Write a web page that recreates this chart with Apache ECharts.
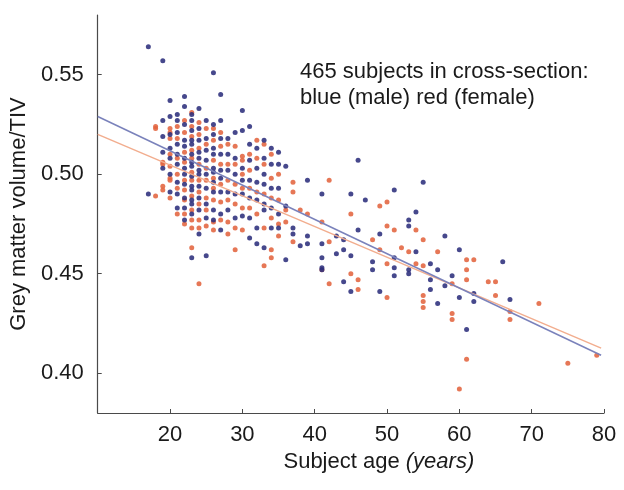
<!DOCTYPE html>
<html>
<head>
<meta charset="utf-8">
<script src="https://cdn.jsdelivr.net/npm/echarts@6/dist/echarts.min.js"></script>
<style>html,body{margin:0;padding:0;background:#fff}#c{width:624px;height:490px}</style>
</head>
<body>
<div id="c"></div>
<script>
// ---- data ----
const xTicks = [20, 30, 40, 50, 60, 70, 80];
const yTicks = [0.40, 0.45, 0.50, 0.55];

const maleData = [
  [17,0.564],[17,0.490],
  [19,0.557],[19,0.527],[19,0.519],[19,0.511],[19,0.503],
  [20,0.537],[20,0.529],[20,0.520],[20,0.513],[20,0.508],[20,0.500],[20,0.491],
  [21,0.530],[21,0.527],[21,0.521],[21,0.515],[21,0.510],[21,0.505],[21,0.496],[21,0.490],[21,0.483],
  [22,0.539],[22,0.534],[22,0.525],[22,0.517],[22,0.514],[22,0.508],[22,0.503],[22,0.500],[22,0.495],[22,0.488],[22,0.483],[22,0.477],
  [23,0.530],[23,0.527],[23,0.522],[23,0.517],[23,0.515],[23,0.510],[23,0.506],[23,0.504],[23,0.499],[23,0.494],[23,0.492],[23,0.487],[23,0.485],[23,0.480],[23,0.458],
  [24,0.533],[24,0.523],[24,0.517],[24,0.511],[24,0.508],[24,0.502],[24,0.500],[24,0.494],[24,0.488],[24,0.482],[24,0.470],
  [25,0.527],[25,0.518],[25,0.512],[25,0.507],[25,0.500],[25,0.493],[25,0.485],[25,0.478],[25,0.459],
  [26,0.551],[26,0.525],[26,0.520],[26,0.513],[26,0.510],[26,0.503],[26,0.501],[26,0.496],[26,0.491],[26,0.482],[26,0.477],
  [27,0.540],[27,0.527],[27,0.518],[27,0.510],[27,0.502],[27,0.498],[27,0.491],[27,0.480],[27,0.472],
  [28,0.518],[28,0.510],[28,0.502],[28,0.491],[28,0.482],
  [29,0.521],[29,0.508],[29,0.500],[29,0.490],[29,0.478],
  [30,0.532],[30,0.522],[30,0.503],[30,0.497],[30,0.490],[30,0.479],
  [31,0.524],[31,0.515],[31,0.507],[31,0.497],[31,0.488],[31,0.478],[31,0.468],
  [32,0.513],[32,0.503],[32,0.496],[32,0.487],[32,0.473],[32,0.465],
  [33,0.517],[33,0.508],[33,0.500],[33,0.495],[33,0.485],[33,0.482],[33,0.463],
  [34,0.513],[34,0.505],[34,0.493],[34,0.483],[34,0.473],
  [35,0.511],[35,0.505],[35,0.493],[35,0.480],[35,0.473],
  [36,0.504],[36,0.484],[36,0.457],
  [37,0.473],[37,0.470],
  [38,0.464],
  [39,0.497],[39,0.469],[39,0.465],
  [41,0.490],[41,0.465],[41,0.458],[41,0.453],[41,0.452],
  [43,0.469],[43,0.460],
  [44,0.467],[44,0.462],[44,0.446],
  [45,0.490],[45,0.459],[45,0.441],
  [46,0.507],[46,0.472],
  [47,0.487],
  [48,0.456],[48,0.452],
  [49,0.470],[49,0.441],
  [51,0.492],[51,0.458],[51,0.453],[51,0.449],
  [53,0.477],[53,0.474],[53,0.452],[53,0.450],
  [54,0.481],[54,0.461],
  [55,0.496],
  [56,0.455],[56,0.447],[56,0.442],
  [57,0.452],[57,0.435],
  [58,0.469],[58,0.444],
  [59,0.449],
  [60,0.462],[60,0.438],
  [61,0.422],
  [62,0.440],[62,0.436],
  [66,0.456],
  [67,0.437]
];

const femaleData = [
  [18,0.524],[18,0.523],[18,0.489],
  [19,0.506],[19,0.505],[19,0.494],[19,0.492],
  [20,0.523],[20,0.521],[20,0.518],[20,0.510],[20,0.504],[20,0.498],[20,0.497],[20,0.488],
  [21,0.524],[21,0.518],[21,0.508],[21,0.500],[21,0.493],[21,0.480],
  [22,0.527],[22,0.521],[22,0.511],[22,0.506],[22,0.497],[22,0.492],[22,0.487],[22,0.480],[22,0.475],
  [23,0.531],[23,0.524],[23,0.519],[23,0.512],[23,0.508],[23,0.501],[23,0.497],[23,0.489],[23,0.482],[23,0.477],[23,0.473],[23,0.463],
  [24,0.526],[24,0.520],[24,0.513],[24,0.505],[24,0.497],[24,0.491],[24,0.485],[24,0.477],[24,0.473],[24,0.445],
  [25,0.523],[25,0.515],[25,0.503],[25,0.497],[25,0.488],[25,0.482],[25,0.474],
  [26,0.523],[26,0.517],[26,0.507],[26,0.498],[26,0.493],[26,0.487],[26,0.476],[26,0.472],
  [27,0.521],[27,0.514],[27,0.505],[27,0.495],[27,0.486],[27,0.477],
  [28,0.515],[28,0.505],[28,0.497],[28,0.487],[28,0.476],[28,0.470],
  [29,0.514],[29,0.505],[29,0.495],[29,0.485],[29,0.473],[29,0.462],
  [30,0.509],[30,0.507],[30,0.500],[30,0.493],[30,0.483],[30,0.472],
  [31,0.510],[31,0.502],[31,0.493],[31,0.483],
  [32,0.517],[32,0.508],[32,0.491],[32,0.480],
  [33,0.515],[33,0.505],[33,0.490],[33,0.473],[33,0.454],
  [34,0.510],[34,0.498],[34,0.488],[34,0.478],[34,0.462],[34,0.458],
  [35,0.500],[35,0.487],[35,0.475],[35,0.469],
  [36,0.482],[36,0.476],
  [37,0.496],[37,0.491],[37,0.466],
  [38,0.482],
  [39,0.480],
  [41,0.476],[41,0.452],
  [42,0.497],[42,0.466],[42,0.445],
  [45,0.480],[45,0.450],
  [46,0.447],[46,0.442],
  [48,0.467],
  [49,0.484],[49,0.462],
  [50,0.486],[50,0.474],[50,0.455],[50,0.438],
  [51,0.472],
  [52,0.463],
  [53,0.461],
  [54,0.472],[54,0.455],
  [55,0.467],[55,0.454],[55,0.439],[55,0.436],[55,0.433],
  [57,0.461],
  [59,0.445],[59,0.430],[59,0.427],
  [60,0.392],
  [61,0.457],[61,0.452],[61,0.447],[61,0.407],
  [62,0.457],
  [64,0.446],
  [65,0.446],[65,0.439],
  [67,0.431],[67,0.427],
  [71,0.435],
  [75,0.405],
  [79,0.409]
];

// regression lines (end points)
const maleFit = [[10,0.529],[79.6,0.409]];
const femaleFit = [[10,0.520],[79.6,0.4126]];

const chart = echarts.init(document.getElementById('c'), null, {renderer:'canvas'});
const FONT = 'Liberation Sans, Arial, sans-serif';
const TXT = '#1a1a1a';
chart.setOption({
  animation:false,
  backgroundColor:'#fff',
  grid:{left:95,right:20,top:15,bottom:77,containLabel:false},
  xAxis:{
    type:'value', min:10, max:80, interval:10,
    name:'{a|Subject age }{b|(years)}',
    nameLocation:'middle', nameGap:37,
    nameTextStyle:{padding:[0,0,0,56],rich:{
      a:{fontSize:22,fontFamily:FONT,color:TXT},
      b:{fontSize:22,fontFamily:FONT,fontStyle:'italic',color:TXT}
    }},
    axisLine:{show:true,lineStyle:{color:'#4a4a4a',width:1.2}},
    axisTick:{show:true,inside:true,length:4,lineStyle:{color:'#4a4a4a'}},
    axisLabel:{show:true,showMinLabel:false,fontSize:22,fontFamily:FONT,color:TXT,margin:11,
      formatter:function(v){return xTicks.indexOf(v)>=0?String(v):'';}},
    splitLine:{show:false}
  },
  yAxis:{
    type:'value', min:0.38, max:0.58,
    name:'Grey matter volume/TIV',
    nameLocation:'middle', nameGap:58, nameRotate:90,
    nameTextStyle:{fontSize:22,fontFamily:FONT,color:TXT},
    axisLine:{show:true,lineStyle:{color:'#4a4a4a',width:1.2}},
    axisTick:{show:true,inside:true,length:4,customValues:yTicks,lineStyle:{color:'#4a4a4a'}},
    axisLabel:{show:true,fontSize:22,fontFamily:FONT,color:TXT,margin:14,customValues:yTicks,
      formatter:function(v){return v.toFixed(2);}},
    splitLine:{show:false}
  },
  graphic:[
    {type:'text',left:300,top:59,style:{text:'465 subjects in cross-section:\nblue (male) red (female)',
      font:'22px Liberation Sans, Arial, sans-serif',fill:TXT,lineHeight:26}}
  ],
  series:[
    {type:'scatter',name:'female',data:femaleData,symbol:'circle',symbolSize:5,
      itemStyle:{color:'#e2643f',opacity:0.88},z:2},
    {type:'scatter',name:'male',data:maleData,symbol:'circle',symbolSize:5,
      itemStyle:{color:'#2c2f7c',opacity:0.88},z:2},
    {type:'line',data:femaleFit,symbol:'none',lineStyle:{color:'#f2ad8e',width:1.5},z:3},
    {type:'line',data:maleFit,symbol:'none',lineStyle:{color:'#7a82bb',width:1.5},z:4}
  ]
});
</script>
</body>
</html>
